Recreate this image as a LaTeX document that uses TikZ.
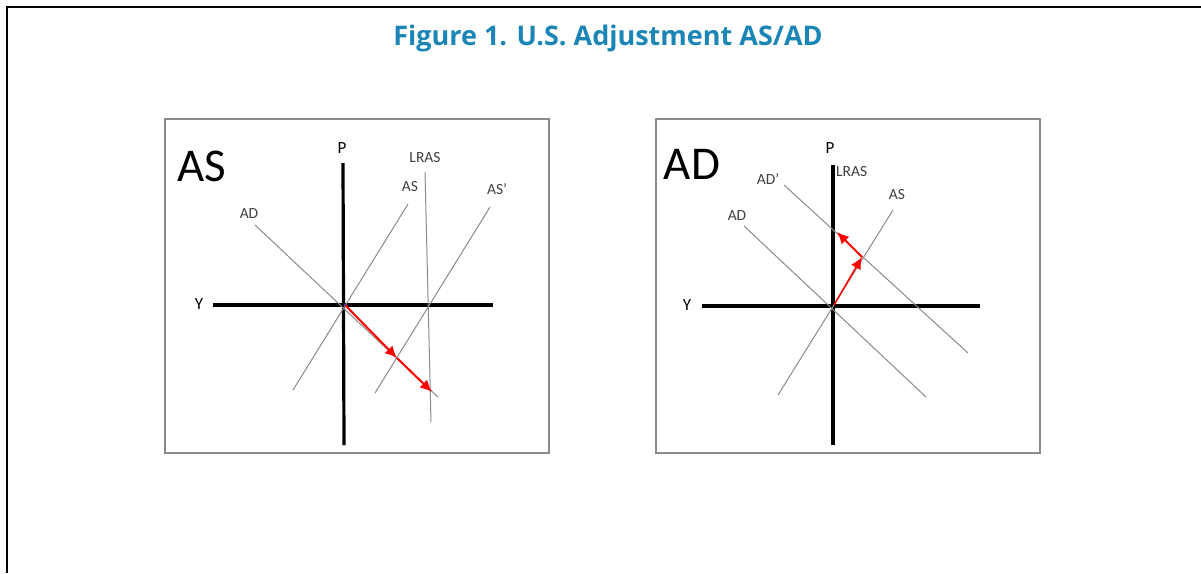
\documentclass[tikz,border=0pt]{standalone}
\usepackage{fontspec}
\setmainfont{Carlito}
\newfontfamily\titlefont{Open Sans}
\usepackage{tikz}
\usetikzlibrary{arrows.meta}
\definecolor{figblue}{HTML}{1B86B6}
\definecolor{curvegray}{HTML}{8A8A8A}

\begin{document}
\begin{tikzpicture}[x=1pt, y=-1pt,
  panel/.style={draw=curvegray, line width=1.3pt},
  axis/.style={line width=3.2pt},
  curve/.style={draw=curvegray, line width=1pt},
  lbl/.style={font=\fontsize{15.5}{17}\selectfont, text=black!75, inner sep=0pt},
  axlbl/.style={font=\fontsize{17}{19}\selectfont, inner sep=0pt},
  big/.style={font=\fontsize{47}{50}\selectfont, inner sep=0pt},
  shiftarr/.style={draw=red, line width=2pt, -{Latex[length=12pt, width=11pt]}},
  >={Latex[length=2mm]}]
\useasboundingbox (0,0) rectangle (1201,573);
% outer frame and title
\draw[line width=2.8pt] (7,573) -- (7,7) -- (1201,7);
\node[font=\titlefont\bfseries\fontsize{27}{30}\selectfont, text=figblue] (title) at (608,38) {Figure 1. U.S. Adjustment AS/AD};

% left panel: AS shift
\draw[panel] (165,119) rectangle (549,453);
\node[big] (asname) at (202,166) {AS};
\coordinate (o1) at (345,305);
\coordinate (p1t) at (343,163);
\coordinate (p1b) at (344,445);
\coordinate (y1l) at (213,305);
\coordinate (y1r) at (493,305);
\draw[axis] (p1t) -- (p1b);
\draw[axis] (y1l) -- (y1r);
\node[axlbl] (p1) at (342,148) {P};
\node[axlbl] (y1) at (199,304) {Y};
\coordinate (ad1a) at (255,225);
\coordinate (ad1b) at (438,397);
\coordinate (as1a) at (408,204);
\coordinate (as1b) at (293,390);
\coordinate (asp1a) at (490,207);
\coordinate (asp1b) at (375,393);
\coordinate (lr1a) at (425,172);
\coordinate (lr1b) at (431,422);
\draw[curve] (ad1a) -- (ad1b);
\draw[curve] (as1a) -- (as1b);
\draw[curve] (asp1a) -- (asp1b);
\draw[curve] (lr1a) -- (lr1b);
\node[lbl] (ad1) at (249,214) {AD};
\node[lbl] (as1) at (410,187) {AS};
\node[lbl] (asp1) at (497,189) {AS'};
\node[lbl] (lr1) at (425,158) {LRAS};
\coordinate (m1) at (397,358);
\coordinate (e1) at (432,392);
\fill[blue!70!cyan] (o1) circle (1.6pt);
\draw[shiftarr] (o1) -- (m1);
\draw[shiftarr] (m1) -- (e1);

% right panel: AD shift
\draw[panel] (656,119) rectangle (1040,453);
\node[big] (adname) at (692,164) {AD};
\coordinate (o2) at (834,305);
\coordinate (p2t) at (833,165);
\coordinate (p2b) at (833,445);
\coordinate (y2l) at (702,306);
\coordinate (y2r) at (980,306);
\draw[axis] (p2t) -- (p2b);
\draw[axis] (y2l) -- (y2r);
\node[axlbl] (p2) at (830,148) {P};
\node[axlbl] (y2) at (687,305) {Y};
\coordinate (ad2a) at (744,226);
\coordinate (ad2b) at (926,397);
\coordinate (adp2a) at (784,185);
\coordinate (adp2b) at (968,353);
\coordinate (as2a) at (893,210);
\coordinate (as2b) at (778,395);
\draw[curve] (ad2a) -- (ad2b);
\draw[curve] (adp2a) -- (adp2b);
\draw[curve] (as2a) -- (as2b);
\node[lbl] (ad2) at (737,216) {AD};
\node[lbl] (adp2) at (768,179) {AD'};
\node[lbl] (as2) at (897,195) {AS};
\node[lbl, anchor=west] (lr2) at (836,172) {LRAS};
\coordinate (m2) at (862,257);
\coordinate (e2) at (837,232);
\draw[shiftarr, line width=1.5pt] (o2) -- (m2);
\draw[shiftarr] (m2) -- (e2);
\end{tikzpicture}
\end{document}
